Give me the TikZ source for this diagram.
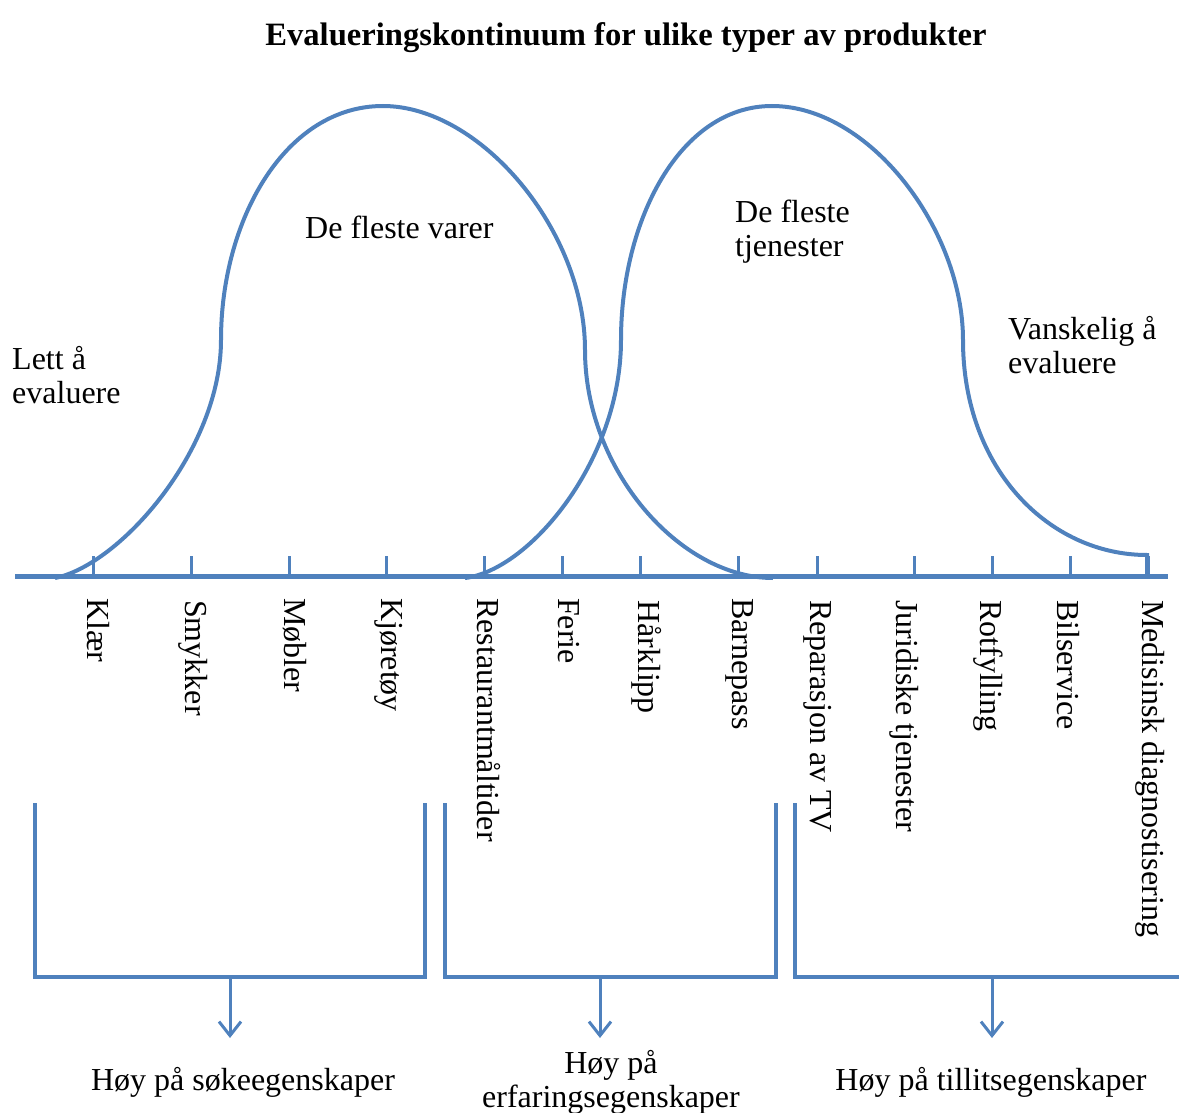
\documentclass[tikz,border=0pt]{standalone}
\usepackage{fontspec}
\setmainfont{Liberation Serif}
\usetikzlibrary{arrows.meta}

\definecolor{kurveblaa}{RGB}{79,129,189}

\tikzset{
  kurve/.style={kurveblaa, line width=4pt},
  akse/.style={kurveblaa, line width=5pt},
  merke/.style={kurveblaa, line width=3pt},
  klamme/.style={kurveblaa, line width=4pt},
  pil/.style={kurveblaa, line width=3pt, -{Straight Barb[length=14pt,width=22pt]}},
  tittel/.style={font=\bfseries\fontsize{32.6}{36}\selectfont, inner sep=0pt, anchor=base},
  tekst/.style={font=\fontsize{32}{34}\selectfont, inner sep=0pt, align=left, anchor=base west},
  midttekst/.style={font=\fontsize{32}{34}\selectfont, inner sep=0pt, align=center, anchor=base},
  produkt/.style={font=\fontsize{32}{34}\selectfont, inner sep=0pt, rotate=-90, anchor=base west},
}

\begin{document}
\begin{tikzpicture}[x=1pt,y=-1pt]
\useasboundingbox (0,0) rectangle (1179,1113);

\node[tittel] (tittel) at (626,46) {Evalueringskontinuum for ulike typer av produkter};

% de to kurvene
\draw[kurve] (55,578) .. controls (120,565) and (221,450) .. (221,340)
  .. controls (221,220) and (285,106) .. (383,106)
  .. controls (480,106) and (585,230) .. (585,350)
  .. controls (585,470) and (680,578) .. (773,578);
\draw[kurve] (465,578) .. controls (530,570) and (621,460) .. (621,340)
  .. controls (621,220) and (680,106) .. (772,106)
  .. controls (870,106) and (963,230) .. (963,340)
  .. controls (963,470) and (1050,555) .. (1147,555) -- (1147,578);

% baseline = siste linje
\node[tekst] (varer) at (305,238) {De fleste varer};
\node[tekst] (tjenester) at (735,256) {De fleste\\tjenester};
\node[tekst] (lett) at (12,403) {Lett å\\evaluere};
\node[tekst] (vanskelig) at (1008,373) {Vanskelig å\\evaluere};

% aksen med merker
\draw[akse] (15,576) -- (1168,576);
\draw[merke] (93,556) -- (93,576);
\draw[merke] (191,556) -- (191,576);
\draw[merke] (289,556) -- (289,576);
\draw[merke] (386,556) -- (386,576);
\draw[merke] (484,556) -- (484,576);
\draw[merke] (562,556) -- (562,576);
\draw[merke] (640,556) -- (640,576);
\draw[merke] (738,556) -- (738,576);
\draw[merke] (817,556) -- (817,576);
\draw[merke] (914,556) -- (914,576);
\draw[merke] (992,556) -- (992,576);
\draw[merke] (1070,556) -- (1070,576);
\draw[merke] (1148,556) -- (1148,576);

\node[produkt] (klaer) at (87,598) {Klær};
\node[produkt] (smykker) at (185,600) {Smykker};
\node[produkt] (mobler) at (284,598) {Møbler};
\node[produkt] (kjoretoy) at (381,598) {Kjøretøy};
\node[produkt] (restaurant) at (477,598) {Restaurantmåltider};
\node[produkt] (ferie) at (558,598) {Ferie};
\node[produkt] (harklipp) at (638,600) {Hårklipp};
\node[produkt] (barnepass) at (732,598) {Barnepass};
\node[produkt] (reparasjon) at (810,600) {Reparasjon av TV};
\node[produkt] (juridiske) at (896,600) {Juridiske tjenester};
\node[produkt] (rotfylling) at (980,600) {Rotfylling};
\node[produkt] (bilservice) at (1057,600) {Bilservice};
\node[produkt] (medisinsk) at (1142,600) {Medisinsk diagnostisering};

% klammene
\draw[klamme] (35,803) -- (35,977) -- (425,977) -- (425,803);
\draw[klamme] (445,803) -- (445,977) -- (776,977) -- (776,803);
\draw[klamme] (795,803) -- (795,977) -- (1179,977);

\coordinate (sok) at (230,977);
\coordinate (erf) at (600,977);
\coordinate (till) at (992,977);
\coordinate (sokpil) at (230,1038);
\coordinate (erfpil) at (600,1038);
\coordinate (tillpil) at (992,1038);
\draw[pil] (sok) -- (sokpil);
\draw[pil] (erf) -- (erfpil);
\draw[pil] (till) -- (tillpil);

\node[midttekst] (hoysok) at (243,1090) {Høy på søkeegenskaper};
\node[midttekst] (hoyerf) at (611,1107) {Høy på\\erfaringsegenskaper};
\node[midttekst] (hoytill) at (991,1090) {Høy på tillitsegenskaper};

\end{tikzpicture}
\end{document}
